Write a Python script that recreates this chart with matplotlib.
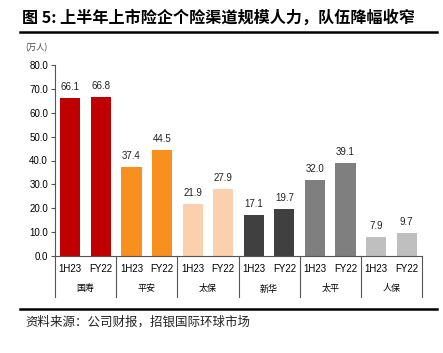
import matplotlib
matplotlib.use("Agg")
import matplotlib.pyplot as plt
import matplotlib.transforms as mtransforms
import numpy as np

plt.rcParams["font.family"] = ["Liberation Sans", "Noto Sans CJK SC", "DejaVu Sans"]

companies = ["国寿", "平安", "太保", "新华", "太平", "人保"]
periods = ["1H23", "FY22"]
values_1h23 = [66.1, 37.4, 21.9, 17.1, 32.0, 7.9]
values_fy22 = [66.8, 44.5, 27.9, 19.7, 39.1, 9.7]
colors = ["#C00000", "#F7901E", "#FAD0AE", "#404040", "#7F7F7F", "#BFBFBF"]

W, H = 443, 353
fig = plt.figure(figsize=(W / 100, H / 100), dpi=100)
ax = fig.add_axes([55 / W, 1 - 256 / H, 367 / W, 191 / H])

xs, vals, cols, labels = [], [], [], []
for i, c in enumerate(companies):
    for j, v in enumerate([values_1h23[i], values_fy22[i]]):
        xs.append(2 * i + j)
        vals.append(v)
        cols.append(colors[i])
        labels.append(periods[j])

bars = ax.bar(xs, vals, width=0.66, color=cols)
for x, v in zip(xs, vals):
    ax.text(x, v + 2.5, f"{v:.1f}", ha="center", va="bottom", fontsize=7, color="#222222")

ax.set_xlim(-0.5, 11.5)
ax.set_ylim(0, 80)
ax.set_yticks(np.arange(0, 81, 10))
ax.set_yticklabels([f"{t:.1f}" for t in np.arange(0, 81, 10)], fontsize=7)
ax.set_xticks(xs)
ax.set_xticklabels(labels, fontsize=7)
ax.tick_params(axis="x", length=0, pad=6)
ax.tick_params(axis="y", length=3, width=0.8, color="#555555", pad=2)
for s in ["top", "right"]:
    ax.spines[s].set_visible(False)
for s in ["left", "bottom"]:
    ax.spines[s].set_color("#555555")
    ax.spines[s].set_linewidth(0.8)

# group separators below the axis
trans = mtransforms.blended_transform_factory(ax.transData, ax.transAxes)
for k in range(7):
    xb = -0.5 + 2 * k
    ax.plot([xb, xb], [0, -41 / 191], transform=trans, color="#555555",
            lw=0.8, clip_on=False)
for i, c in enumerate(companies):
    ax.text(2 * i + 0.5, -33 / 191, c, transform=trans, ha="center", va="center",
            fontsize=6.5, family=["Noto Sans CJK SC", "DejaVu Sans"])

ax.text(-0.08, 1.09, "(万人)", transform=ax.transAxes, fontsize=6, color="#444444",
        ha="left", va="center", family=["Noto Sans CJK SC", "DejaVu Sans"])

fig.text(22 / W, 1 - 18 / H, "图 5: 上半年上市险企个险渠道规模人力，队伍降幅收窄",
         fontsize=11.6, fontweight="bold", ha="left", va="center",
         family=["Noto Sans CJK SC", "DejaVu Sans"])
fig.add_artist(plt.Line2D([20 / W, 437 / W], [1 - 32 / H, 1 - 32 / H], color="black", lw=1.8))
fig.add_artist(plt.Line2D([20 / W, 437 / W], [1 - 309 / H, 1 - 309 / H], color="black", lw=1.8))
fig.text(25 / W, 1 - 322 / H, "资料来源：公司财报，招银国际环球市场", fontsize=9,
         ha="left", va="center", color="#222222",
         family=["Noto Sans CJK SC", "DejaVu Sans"])

fig.savefig("out.png", dpi=100)
